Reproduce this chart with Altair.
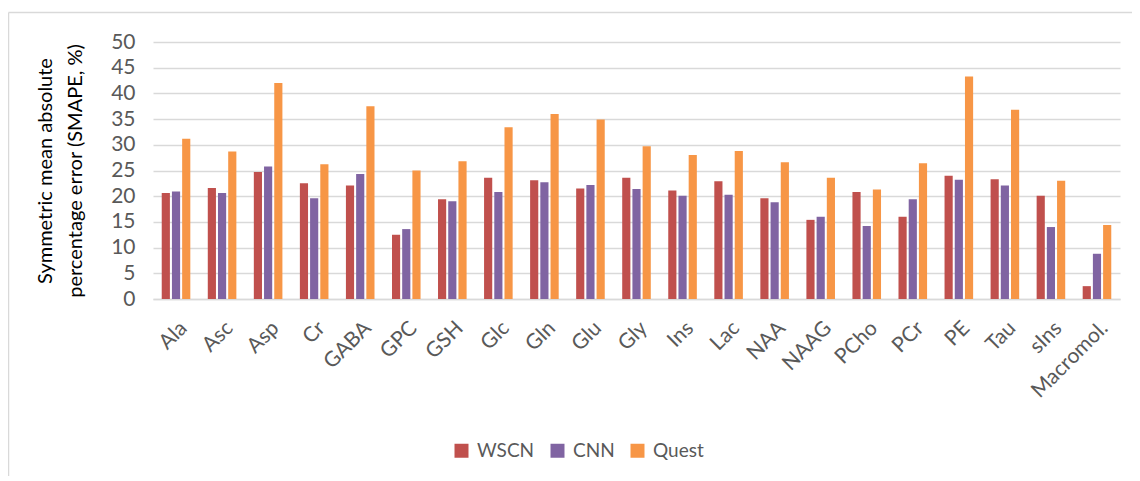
import altair as alt
import pandas as pd

categories = ["Ala", "Asc", "Asp", "Cr", "GABA", "GPC", "GSH", "Glc", "Gln", "Glu",
              "Gly", "Ins", "Lac", "NAA", "NAAG", "PCho", "PCr", "PE", "Tau", "sIns",
              "Macromol."]
series = ["WSCN", "CNN", "Quest"]
wscn = [20.6, 21.6, 24.7, 22.5, 22.1, 12.5, 19.4, 23.6, 23.1, 21.5,
        23.6, 21.1, 22.9, 19.6, 15.4, 20.8, 16.0, 24.0, 23.3, 20.1, 2.5]
cnn = [20.9, 20.6, 25.8, 19.6, 24.3, 13.6, 19.0, 20.8, 22.7, 22.2,
       21.4, 20.1, 20.3, 18.8, 16.0, 14.2, 19.4, 23.2, 22.1, 14.0, 8.8]
quest = [31.2, 28.7, 42.0, 26.2, 37.5, 25.0, 26.8, 33.4, 36.0, 34.9,
         29.7, 28.0, 28.8, 26.6, 23.6, 21.3, 26.4, 43.3, 36.8, 23.0, 14.4]
colors = ["#C0504D", "#8064A2", "#F79646"]
y_ticks = list(range(0, 51, 5))

rows = []
for s, vals in zip(series, [wscn, cnn, quest]):
    for c, v in zip(categories, vals):
        rows.append({"cat": c, "series": s, "value": v})
df = pd.DataFrame(rows)

FONT = "Lato"
GRID = "#d9d9d9"

bars = alt.Chart(df).mark_bar().encode(
    x=alt.X("cat:N", sort=categories,
            scale=alt.Scale(paddingInner=0.335, paddingOuter=0.1675),
            axis=alt.Axis(title=None, labelAngle=-45, labelFontSize=21,
                          labelColor="#595959", labelFont=FONT, ticks=False,
                          labelPadding=18, domainColor=GRID, domainWidth=1.5,
                          grid=False)),
    xOffset=alt.XOffset("series:N", sort=series,
                        scale=alt.Scale(paddingInner=0.2, paddingOuter=0.1)),
    y=alt.Y("value:Q", scale=alt.Scale(domain=[0, 50], nice=False),
            axis=alt.Axis(values=y_ticks, title=["Symmetric mean absolute",
                                                 "percentage error (SMAPE, %)"],
                          titleFontSize=20, titleFont=FONT, titleFontWeight="normal",
                          titleColor="#000000", titlePadding=25, titleLineHeight=30,
                          labelFontSize=21, labelFont=FONT, labelColor="#595959",
                          labelPadding=18, ticks=False, domain=False,
                          gridColor=GRID, gridWidth=1.3)),
    color=alt.Color("series:N", sort=series,
                    scale=alt.Scale(domain=series, range=colors),
                    legend=alt.Legend(title=None, orient="none", legendX=299,
                                      legendY=399, direction="horizontal",
                                      symbolType="square", symbolSize=196,
                                      symbolStrokeWidth=0, labelFontSize=19,
                                      labelFont=FONT, labelColor="#595959",
                                      columnPadding=13, labelOffset=6)),
)

frame_df = pd.DataFrame({"k": [0]})
left_line = alt.Chart(frame_df).mark_rule(color=GRID, strokeWidth=1.5).encode(
    x=alt.value(-144.5), y=alt.value(-29.5), y2=alt.value(470))
top_line = alt.Chart(frame_df).mark_rule(color=GRID, strokeWidth=1.5).encode(
    x=alt.value(-144.5), x2=alt.value(1000), y=alt.value(-29.5))

chart = alt.layer(bars, left_line, top_line).properties(
    width=967, height=257,
    autosize=alt.AutoSizeParams(type="none"),
    padding={"left": 145, "top": 34, "right": 12, "bottom": 177},
).configure_view(stroke=None)

chart.save("out.html", embed_options={"renderer": "svg", "actions": False})
